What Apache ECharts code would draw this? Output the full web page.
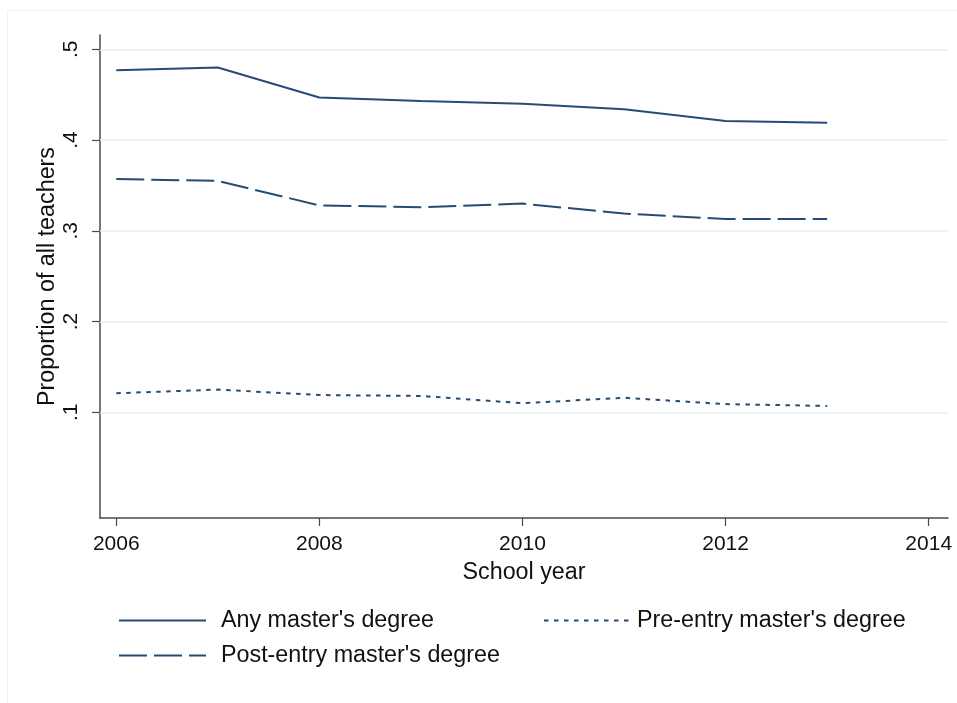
<!DOCTYPE html>
<html>
<head>
<meta charset="utf-8">
<script src="https://cdn.jsdelivr.net/npm/echarts@6/dist/echarts.min.js"></script>
<style>
  html, body { margin: 0; padding: 0; background: #fff; }
  #chart { width: 957px; height: 703px; }
</style>
</head>
<body>
<div id="chart"></div>
<script>
// School years on the x axis
const years = [2006, 2007, 2008, 2009, 2010, 2011, 2012, 2013];

// Share of all teachers holding each kind of master's degree
const anyMasters = [0.477, 0.480, 0.447, 0.443, 0.440, 0.434, 0.421, 0.419];
const postEntryMasters = [0.357, 0.355, 0.328, 0.326, 0.330, 0.319, 0.313, 0.313];
const preEntryMasters = [0.121, 0.125, 0.119, 0.118, 0.110, 0.116, 0.109, 0.107];

// Tick labels
const xTicks = [2006, 2008, 2010, 2012, 2014];
const yTicks = [0.1, 0.2, 0.3, 0.4, 0.5];

const seriesNames = ["Any master's degree", "Post-entry master's degree", "Pre-entry master's degree"];

const navy = '#264c75';
const axisGray = '#4a4a4a';
const gridColor = '#e7eff1';
const font = '"Liberation Sans", Arial, Helvetica, sans-serif';
const tickFs = 21;   // tick labels
const titleFs = 23.3; // axis titles and legend

const pairs = arr => years.map((y, i) => [y, arr[i]]);
const yLabel = v => String(v.toFixed(1)).replace(/^0/, '');

const chart = echarts.init(document.getElementById('chart'), null, { renderer: 'canvas' });

const legendText = { fontSize: titleFs, color: '#111', fontFamily: font, lineHeight: 23 };

chart.setOption({
  animation: false,
  backgroundColor: '#ffffff',
  textStyle: { fontFamily: font, color: '#111' },
  graphic: [{
    type: 'rect',
    shape: { x: 7.5, y: 10.5, width: 960, height: 700 },
    style: { fill: 'none', stroke: '#edf2f4', lineWidth: 1 },
    silent: true
  }],
  grid: { left: 100, right: 9, top: 35, bottom: 185, containLabel: false },
  xAxis: {
    type: 'value',
    min: 2005.84,
    max: 2014.19,
    name: 'School year',
    nameLocation: 'middle',
    nameGap: 43,
    nameMoveOverlap: false,
    nameTextStyle: { fontSize: titleFs, color: '#111', fontFamily: font },
    axisLine: { show: true, onZero: false, lineStyle: { color: axisGray, width: 1.5 } },
    axisTick: { show: true, length: 8, customValues: xTicks, lineStyle: { color: axisGray, width: 1.2 } },
    axisLabel: { customValues: xTicks, fontSize: tickFs, color: '#111', margin: 16, formatter: v => String(v) },
    splitLine: { show: false }
  },
  yAxis: {
    type: 'value',
    min: -0.0165,
    max: 0.5158,
    name: 'Proportion of all teachers',
    nameLocation: 'middle',
    nameGap: 41,
    nameMoveOverlap: false,
    nameRotate: 90,
    nameTextStyle: { fontSize: titleFs, color: '#111', fontFamily: font },
    axisLine: { show: true, onZero: false, lineStyle: { color: axisGray, width: 1.5 } },
    axisTick: { show: true, length: 8, customValues: yTicks, lineStyle: { color: axisGray, width: 1.2 } },
    axisLabel: { customValues: yTicks, rotate: 90, fontSize: tickFs, color: '#111', margin: 18, formatter: yLabel },
    splitLine: { show: false }
  },
  legend: [{
    data: [seriesNames[0], seriesNames[1]],
    orient: 'vertical',
    left: 118,
    top: 609,
    padding: 0,
    itemWidth: 87,
    itemHeight: 14,
    itemGap: 12,
    itemStyle: { opacity: 0 },
    textStyle: Object.assign({ padding: [0, 0, 0, 10] }, legendText)
  }, {
    data: [seriesNames[2]],
    orient: 'vertical',
    left: 543,
    top: 609,
    padding: 0,
    itemWidth: 87,
    itemHeight: 14,
    itemStyle: { opacity: 0 },
    textStyle: Object.assign({ padding: [0, 0, 0, 1] }, legendText)
  }],
  series: [{
    name: seriesNames[0],
    type: 'line',
    data: pairs(anyMasters),
    symbol: 'none',
    lineStyle: { color: navy, width: 2, type: 'solid' },
    itemStyle: { color: navy },
    z: 3,
    markLine: {
      silent: true,
      symbol: 'none',
      label: { show: false },
      lineStyle: { color: gridColor, width: 1.5, type: 'solid' },
      emphasis: { disabled: true },
      data: yTicks.map(v => ({ yAxis: v })),
      z: 1
    }
  }, {
    name: seriesNames[1],
    type: 'line',
    data: pairs(postEntryMasters),
    symbol: 'none',
    lineStyle: { color: navy, width: 2, type: [28, 7] },
    itemStyle: { color: navy },
    z: 3
  }, {
    name: seriesNames[2],
    type: 'line',
    data: pairs(preEntryMasters),
    symbol: 'none',
    lineStyle: { color: navy, width: 2, type: [4.5, 5.5] },
    itemStyle: { color: navy },
    z: 3
  }]
});
</script>
</body>
</html>
